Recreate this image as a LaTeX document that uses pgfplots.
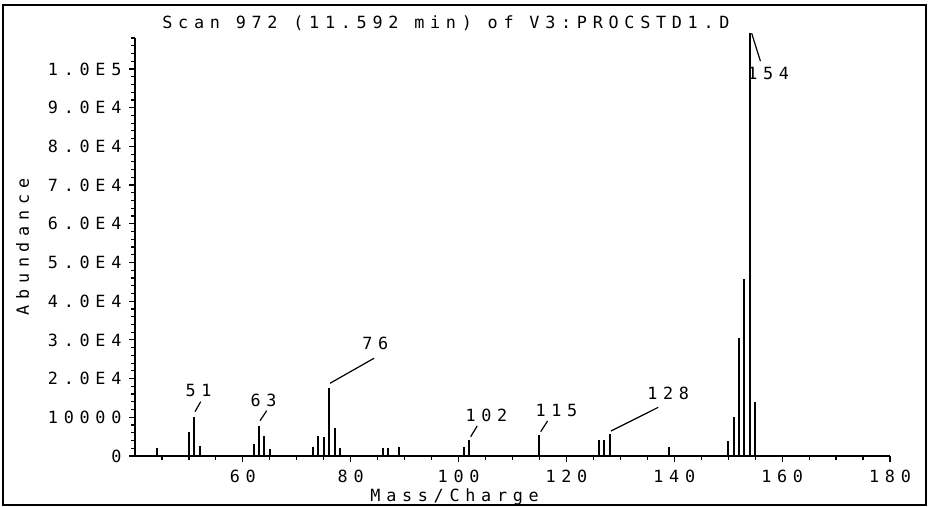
\documentclass[border=0pt]{standalone}
\usepackage{fontspec}
\setmainfont{DejaVu Sans Mono}[LetterSpace=34]
\usepackage{pgfplots}
\pgfplotsset{compat=1.18}

\begin{document}
\begin{tikzpicture}
\begin{axis}[
  scale only axis, width=377.5pt, height=209pt,
  xmin=40, xmax=180, ymin=0, ymax=108000,
  axis lines=left,
  axis line style={line width=0.7pt, -},
  clip=false,
  scaled y ticks=false,
  font=\fontsize{8.4}{10}\selectfont,
  /pgf/number format/assume math mode=true,
  xtick={60,80,...,180},
  xticklabels={60,80,100,120,140,160,180},
  minor xtick={45,50,...,175},
  ytick={0,10000,...,100000},
  yticklabels={0,10000,2.0E4,3.0E4,4.0E4,5.0E4,6.0E4,7.0E4,8.0E4,9.0E4,1.0E5},
  minor ytick={2000,4000,...,108000},
  tick align=outside,
  major tick length=3pt, minor tick length=2pt,
  tick style={line width=0.6pt, black},
  xticklabel style={anchor=base, inner sep=0pt, yshift=-10.4pt},
  yticklabel style={anchor=east, inner sep=0pt, xshift=-3.6pt},
  xlabel={Mass/Charge},
  xlabel style={at={(rel axis cs:0.3113,0)}, anchor=base west, inner sep=0pt, yshift=-22.6pt},
  ylabel={Abundance},
  ylabel style={at={(rel axis cs:-0.149,0.5)}, anchor=center, inner sep=0pt},
]
% mass spectrum, one stick per m/z
\addplot[ycomb, line width=1pt, mark=none, black] coordinates {
  (44,2000) (50,6280) (51,10000) (52,2660)
  (62,3020) (63,7750) (64,5170) (65,1890)
  (73,2250) (74,5170) (75,4990) (76,17490) (77,7310) (78,1990)
  (86,2000) (87,2000) (89,2250)
  (101,2330) (102,4060) (115,5350)
  (126,4060) (127,4060) (128,5610) (139,2330)
  (150,3800) (151,10080) (152,30490) (153,45660) (154,109300) (155,13950)
};
% peak annotations with leader lines
\begin{scope}[every node/.style={anchor=base west, inner sep=0pt}, line width=0.6pt]
  \node at (axis cs:49.27,15320) {51};
  \draw (axis cs:51.13,11450) -- (axis cs:52.18,14030);
  \node at (axis cs:61.32,12740) {63};
  \draw (axis cs:63.18,9120) -- (axis cs:64.42,11710);
  \node at (axis cs:82.03,27390) {76};
  \draw (axis cs:76.16,18790) -- (axis cs:84.32,25250);
  \node at (axis cs:101.19,8870) {102};
  \draw (axis cs:102.25,4990) -- (axis cs:103.45,7750);
  \node at (axis cs:114.17,10160) {115};
  \draw (axis cs:115.23,6280) -- (axis cs:116.5,9040);
  \node at (axis cs:134.88,14470) {128};
  \draw (axis cs:128.26,6460) -- (axis cs:137.03,12580);
  \node at (axis cs:153.42,97340) {154};
  \draw (axis cs:154.35,109220) -- (axis cs:155.97,102010);
\end{scope}
\end{axis}
\node[anchor=base west, inner sep=0pt, font=\fontsize{8.4}{10}\selectfont]
  at (13.5pt,213.5pt) {Scan 972 (11.592 min) of V3:PROCSTD1.D};
\draw[line width=0.8pt] (-66pt,-24.5pt) rectangle (395.5pt,225.5pt);
\pgfresetboundingbox
\useasboundingbox (-67.5pt,-25.5pt) rectangle (397.5pt,228pt);
\end{tikzpicture}
\end{document}
